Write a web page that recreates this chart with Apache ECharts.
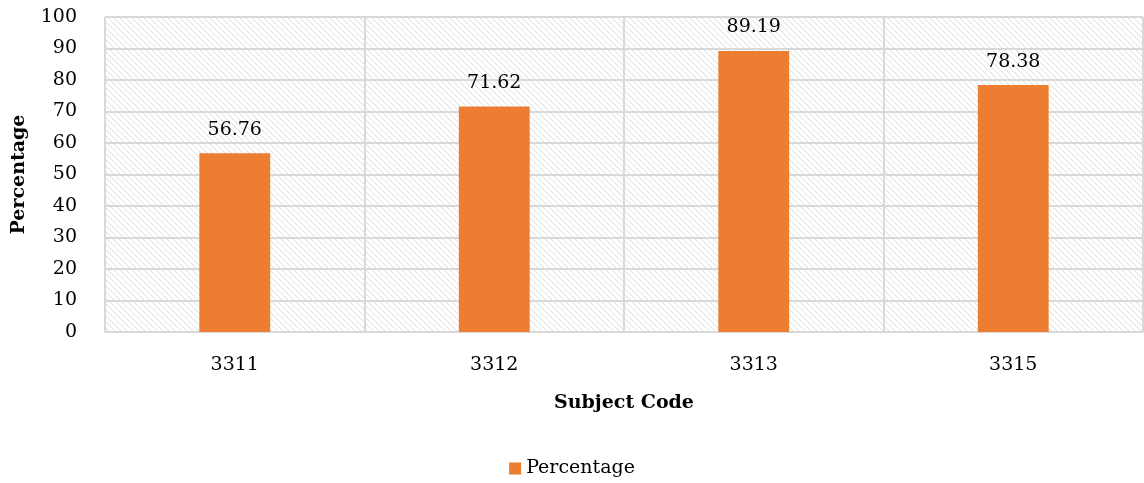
<!DOCTYPE html>
<html><head><meta charset="utf-8">
<script src="https://cdn.jsdelivr.net/npm/echarts@6/dist/echarts.min.js"></script>
<style>html,body{margin:0;padding:0;background:#fff}#c{width:1144px;height:483px}</style>
</head><body><div id="c"></div>
<script>
const categories = ['3311', '3312', '3313', '3315'];
const percentage = [56.76, 71.62, 89.19, 78.38];
const seriesName = 'Percentage';

const N = 6;
const pc = document.createElement('canvas');
pc.width = N; pc.height = N;
const g = pc.getContext('2d');
g.fillStyle = '#ffffff'; g.fillRect(0,0,N,N);
g.fillStyle = '#dedede';
for (let i = 0; i < N; i++) { g.fillRect(i, i, 1, 1); }

const font = '"DejaVu Serif", "Liberation Serif", serif';
const chart = echarts.init(document.getElementById('c'));
chart.setOption({
  animation: false,
  textStyle: { fontFamily: font },
  grid: { left: 105, right: 1, top: 17, bottom: 151, show: true,
          backgroundColor: { image: pc, repeat: 'repeat' }, borderColor: '#d9d9d9', borderWidth: 1 },
  legend: { bottom: 0, left: 'center', itemWidth: 12, itemHeight: 12, itemGap: 6,
            textStyle: { fontFamily: font, fontSize: 19, color: '#000' },
            data: [{ name: seriesName, icon: 'rect' }] },
  xAxis: { type: 'category', data: categories,
           name: 'Subject Code', nameLocation: 'middle', nameGap: 62,
           nameTextStyle: { fontFamily: font, fontSize: 19, fontWeight: 'bold', color: '#000' },
           axisLine: { lineStyle: { color: '#d9d9d9', width: 2 } }, axisTick: { show: false },
           axisLabel: { fontFamily: font, fontSize: 19, color: '#000', margin: 24 },
           splitLine: { show: true, lineStyle: { color: '#d9d9d9', width: 2 } } },
  yAxis: { type: 'value', min: 0, max: 100, interval: 10,
           name: 'Percentage', nameLocation: 'middle', nameGap: 76, nameRotate: 90,
           nameTextStyle: { fontFamily: font, fontSize: 19, fontWeight: 'bold', color: '#000' },
           axisLine: { show: false }, axisTick: { show: false },
           axisLabel: { fontFamily: font, fontSize: 19, color: '#000', margin: 28 },
           splitLine: { lineStyle: { color: '#d9d9d9', width: 2 } } },
  series: [{ name: seriesName, type: 'bar', data: percentage, barWidth: '27.3%',
             itemStyle: { color: '#ED7D31' },
             label: { show: true, position: 'top', distance: 14, fontFamily: font, fontSize: 19, color: '#000' } }]
});
</script></body></html>
